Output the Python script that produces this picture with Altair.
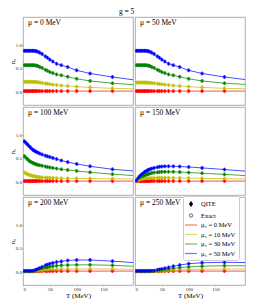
import altair as alt
import pandas as pd

# temperatures (MeV): 0 and 205 are the line ends, the rest carry markers
T_LINE = [0, 2.5, 5, 7.6, 10, 12.5, 15.2, 17.9, 20, 22.7, 25, 27.8, 31.3, 35.7,
          41.7, 45.5, 50, 55.6, 62.5, 71.4, 83.3, 100, 125, 166.7, 205]
MU5_LABELS = ["0", "10", "30", "50"]
MU5_COLORS = ["#ff0000", "#bfbf00", "#008000", "#0000ff"]
PANEL_MU = [0, 50, 100, 150, 200, 250]
QITE_ERR = 0.035
TICKS_X = [0, 50, 100, 150]
TICKS_Y = [0.0, 0.5, 1.0]
ZERO = [0.0] * 25

MU0_Y = [0.20, 0.20, 0.20, 0.20, 0.20, 0.20, 0.20, 0.20, 0.20, 0.198, 0.195, 0.19, 0.185, 0.175,
         0.165, 0.158, 0.15, 0.14, 0.13, 0.12, 0.11, 0.095, 0.08, 0.06, 0.05]
MU0_G = [0.56, 0.56, 0.56, 0.56, 0.56, 0.56, 0.56, 0.56, 0.56, 0.555, 0.55, 0.54, 0.52, 0.50,
         0.46, 0.44, 0.41, 0.39, 0.36, 0.34, 0.31, 0.265, 0.22, 0.17, 0.14]
MU0_B = [0.87, 0.87, 0.87, 0.87, 0.87, 0.87, 0.87, 0.87, 0.87, 0.865, 0.86, 0.85, 0.83, 0.80,
         0.75, 0.72, 0.68, 0.64, 0.59, 0.56, 0.52, 0.45, 0.38, 0.305, 0.245]

MU50_Y = [0.185, 0.185, 0.185, 0.185, 0.185, 0.185, 0.185, 0.185, 0.185, 0.183, 0.18, 0.178, 0.175, 0.17,
          0.16, 0.155, 0.148, 0.14, 0.13, 0.12, 0.11, 0.095, 0.08, 0.06, 0.05]
MU50_G = [0.56, 0.56, 0.56, 0.56, 0.56, 0.56, 0.56, 0.56, 0.56, 0.555, 0.55, 0.54, 0.52, 0.50,
          0.46, 0.44, 0.41, 0.39, 0.36, 0.34, 0.31, 0.265, 0.22, 0.17, 0.145]
MU50_B = [0.87, 0.87, 0.87, 0.87, 0.87, 0.87, 0.87, 0.87, 0.87, 0.865, 0.86, 0.85, 0.83, 0.80,
          0.75, 0.72, 0.68, 0.64, 0.59, 0.56, 0.52, 0.45, 0.38, 0.305, 0.25]

MU100_Y = [0.19, 0.185, 0.17, 0.155, 0.14, 0.13, 0.12, 0.11, 0.105, 0.10, 0.095, 0.09, 0.085, 0.08,
           0.075, 0.073, 0.07, 0.068, 0.065, 0.062, 0.06, 0.058, 0.055, 0.05, 0.045]
MU100_G = [0.55, 0.54, 0.51, 0.48, 0.455, 0.43, 0.41, 0.395, 0.385, 0.37, 0.36, 0.35, 0.34, 0.33,
           0.315, 0.305, 0.295, 0.285, 0.27, 0.255, 0.24, 0.22, 0.19, 0.15, 0.12]
MU100_B = [0.87, 0.86, 0.83, 0.80, 0.77, 0.74, 0.71, 0.68, 0.665, 0.645, 0.63, 0.615, 0.595, 0.575,
           0.55, 0.535, 0.52, 0.50, 0.475, 0.445, 0.41, 0.37, 0.32, 0.255, 0.22]

MU150_Y = [0.0, 0.0, 0.01, 0.02, 0.03, 0.035, 0.04, 0.045, 0.05, 0.055, 0.058, 0.06, 0.063, 0.066,
           0.068, 0.07, 0.07, 0.07, 0.07, 0.07, 0.068, 0.065, 0.06, 0.052, 0.045]
MU150_G = [0.0, 0.005, 0.03, 0.06, 0.08, 0.095, 0.11, 0.125, 0.135, 0.145, 0.155, 0.165, 0.175, 0.185,
           0.19, 0.195, 0.20, 0.20, 0.20, 0.20, 0.195, 0.185, 0.17, 0.145, 0.12]
MU150_B = [0.0, 0.01, 0.05, 0.09, 0.12, 0.145, 0.17, 0.195, 0.21, 0.23, 0.245, 0.255, 0.27, 0.285,
           0.30, 0.31, 0.315, 0.32, 0.32, 0.32, 0.315, 0.305, 0.285, 0.25, 0.215]

MU200_Y = [0, 0, 0, 0, 0, 0, 0, 0, 0, 0, 0, 0.005, 0.01, 0.015,
           0.022, 0.026, 0.03, 0.033, 0.037, 0.04, 0.043, 0.045, 0.046, 0.045, 0.04]
MU200_G = [0, 0, 0, 0, 0, 0, 0, 0, 0, 0.01, 0.015, 0.025, 0.04, 0.055,
           0.075, 0.085, 0.095, 0.105, 0.115, 0.125, 0.13, 0.135, 0.135, 0.125, 0.105]
MU200_B = [0, 0, 0, 0, 0, 0, 0, 0.005, 0.01, 0.02, 0.03, 0.045, 0.065, 0.09,
           0.125, 0.14, 0.16, 0.175, 0.195, 0.21, 0.23, 0.24, 0.24, 0.215, 0.185]

MU250_Y = [0, 0, 0, 0, 0, 0, 0, 0, 0, 0, 0, 0, 0, 0,
           0, 0, 0.005, 0.01, 0.015, 0.02, 0.03, 0.035, 0.04, 0.045, 0.045]
MU250_G = [0, 0, 0, 0, 0, 0, 0, 0, 0, 0, 0, 0, 0, 0,
           0.01, 0.015, 0.02, 0.03, 0.04, 0.06, 0.075, 0.09, 0.105, 0.115, 0.115]
MU250_B = [0, 0, 0, 0, 0, 0, 0, 0, 0, 0, 0, 0, 0.005, 0.01,
           0.025, 0.035, 0.045, 0.06, 0.08, 0.105, 0.13, 0.16, 0.18, 0.19, 0.185]

PANELS = {
    0: [ZERO, MU0_Y, MU0_G, MU0_B],
    50: [ZERO, MU50_Y, MU50_G, MU50_B],
    100: [ZERO, MU100_Y, MU100_G, MU100_B],
    150: [ZERO, MU150_Y, MU150_G, MU150_B],
    200: [ZERO, MU200_Y, MU200_G, MU200_B],
    250: [ZERO, MU250_Y, MU250_G, MU250_B],
}

LEGEND_ENTRIES = ["QITE", "Exact", "μ₅ = 0 MeV", "μ₅ = 10 MeV", "μ₅ = 30 MeV", "μ₅ = 50 MeV"]
LEGEND_STROKE = ["#000000", "#888888", "rgba(255,0,0,0.55)", "rgba(191,191,0,0.55)",
                 "rgba(0,128,0,0.55)", "rgba(0,0,255,0.55)"]
LEGEND_FILL = ["#000000", "#ffffff", "transparent", "transparent", "transparent", "transparent"]
LINE_PATH = "M-1.5,0H1.5"
LEGEND_SHAPE = ["M0,-0.45L0.35,0L0,0.45L-0.35,0Z M0,-0.7V0.7",
                "M-0.4,0A0.4,0.4 0 1,0 0.4,0A0.4,0.4 0 1,0 -0.4,0Z",
                LINE_PATH, LINE_PATH, LINE_PATH, LINE_PATH]

FONT = "Liberation Serif"
W, H = 110, 88
XDOM = [0, 205]
YDOM = [-0.3, 1.6]


def panel(idx):
    mu = PANEL_MU[idx]
    rows = []
    for lab, vals in zip(MU5_LABELS, PANELS[mu]):
        for i, (t, v) in enumerate(zip(T_LINE, vals)):
            rows.append(dict(T=t, n5=v, mu5=lab, mk=(0 < i < len(T_LINE) - 1),
                             lo=v - QITE_ERR, hi=v + QITE_ERR))
    df = pd.DataFrame(rows)
    left = idx % 2 == 0
    bottom = idx >= 4
    xaxis = alt.Axis(values=TICKS_X, title="T (MeV)", grid=False) if bottom else None
    yaxis = alt.Axis(values=TICKS_Y, format=".1f", title="n₅", grid=False) if left else None
    xs = alt.Scale(domain=XDOM, nice=False, zero=False)
    ys = alt.Scale(domain=YDOM, nice=False, zero=False)
    x = alt.X("T:Q", scale=xs, axis=xaxis)
    y = alt.Y("n5:Q", scale=ys, axis=yaxis)
    color = alt.Color("mu5:N", scale=alt.Scale(domain=MU5_LABELS, range=MU5_COLORS), legend=None)
    base = alt.Chart(df)
    line = base.mark_line(strokeWidth=1, opacity=0.7, clip=True).encode(
        x=x, y=y, color=color, order="T:Q")
    pts = base.transform_filter("datum.mk")
    exact = pts.mark_point(shape="circle", filled=False, size=10, strokeWidth=0.5,
                           opacity=0.9, clip=True).encode(x=x, y=y, color=color)
    err = pts.mark_rule(strokeWidth=0.9, clip=True).encode(
        x=x, y=alt.Y("lo:Q", scale=ys, axis=yaxis), y2="hi:Q", color=color)
    qite = pts.mark_point(shape="diamond", filled=True, size=9, opacity=1, clip=True).encode(
        x=x, y=y, color=color)
    label = alt.Chart(pd.DataFrame({"lab": [f"μ = {mu} MeV"]})).mark_text(
        align="left", baseline="middle", font=FONT, fontSize=7.5, color="black"
    ).encode(text="lab:N", x=alt.value(5), y=alt.value(6))
    layers = [line, exact, err, qite, label]
    if idx == 5:
        ldf = pd.DataFrame({"entry": LEGEND_ENTRIES, "T": [-50] * 6, "n5": [0.0] * 6})
        dummy = alt.Chart(ldf).mark_point(size=64, opacity=1, clip=True, strokeWidth=1.2).encode(
            x=alt.X("T:Q", scale=xs, axis=xaxis),
            y=alt.Y("n5:Q", scale=ys, axis=yaxis),
            stroke=alt.Stroke("entry:N", scale=alt.Scale(domain=LEGEND_ENTRIES, range=LEGEND_STROKE),
                              legend=alt.Legend(title=None)),
            fill=alt.Fill("entry:N", scale=alt.Scale(domain=LEGEND_ENTRIES, range=LEGEND_FILL),
                          legend=alt.Legend(title=None)),
            shape=alt.Shape("entry:N", scale=alt.Scale(domain=LEGEND_ENTRIES, range=LEGEND_SHAPE),
                            legend=alt.Legend(title=None)),
        )
        layers.append(dummy)
    return alt.layer(*layers).properties(width=W, height=H)


rows = [alt.hconcat(panel(2 * r), panel(2 * r + 1), spacing=0) for r in range(3)]
chart = alt.vconcat(*rows, spacing=0).properties(
    title=alt.TitleParams("g = 5", font=FONT, fontSize=7.5, fontWeight="normal",
                          anchor="middle", frame="bounds", offset=1, color="black"),
    padding={"left": -1, "top": 0, "right": 0, "bottom": 0},
).configure_view(
    stroke="#999999", strokeWidth=0.8
).configure_axis(
    labelFont=FONT, labelFontSize=5, labelColor="#222222", labelPadding=0.5,
    titleFont=FONT, titleFontSize=7, titleFontWeight="normal", titleColor="black",
    tickSize=1, tickColor="#888888", tickWidth=0.6, domain=False, titlePadding=0,
).configure_legend(
    orient="none", legendX=160, legendY=179, padding=3, strokeColor="#cccccc",
    fillColor="white", cornerRadius=2, rowPadding=0.5, labelOffset=5,
    labelFont=FONT, labelFontSize=6.5, labelColor="black", symbolSize=64,
    symbolStrokeWidth=1.2, symbolType="circle",
)

chart.save("out.html", embed_options={"renderer": "svg", "actions": False})
